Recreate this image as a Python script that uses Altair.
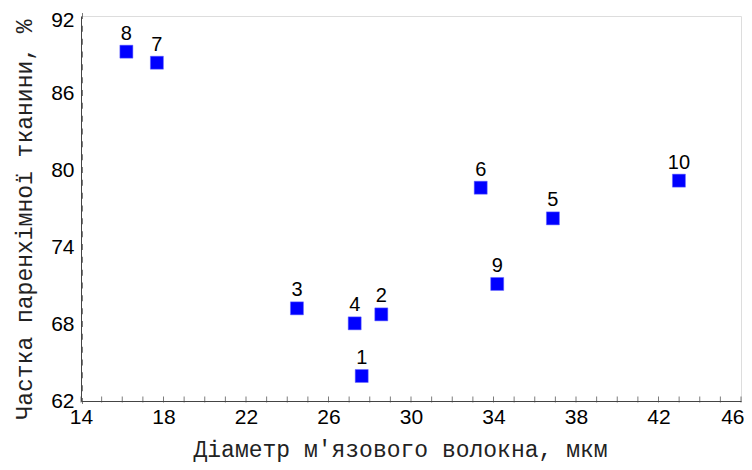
import altair as alt
import pandas as pd

point_labels = ["1", "2", "3", "4", "5", "6", "7", "8", "9", "10"]
diameter = [27.61, 28.56, 24.47, 27.27, 36.88, 33.38, 17.68, 16.20, 34.18, 42.99]
share = [63.95, 68.75, 69.22, 68.05, 76.23, 78.62, 88.36, 89.22, 71.12, 79.17]

x_labels = [14, 18, 22, 26, 30, 34, 38, 42, 46]
y_labels = [62, 68, 74, 80, 86, 92]
x_minor = list(range(14, 47))
y_minor = list(range(62, 93))

x_title = "Діаметр м'язового волокна, мкм"
y_title = "Частка паренхімної тканини, %"

df = pd.DataFrame({"label": point_labels, "d": diameter, "s": share})
xt = pd.DataFrame({"v": x_minor})
yt = pd.DataFrame({"v": y_minor})

xscale = alt.Scale(domain=[14, 46], nice=False, zero=False)
yscale = alt.Scale(domain=[62, 92], nice=False, zero=False)

common = dict(
    labelOverlap=False,
    labelFlush=False,
    tickSize=0,
    grid=False,
    labelFont="Liberation Sans",
    labelFontSize=21,
    labelColor="black",
    titleFont="Liberation Mono",
    titleFontSize=23,
    titleFontWeight="normal",
    titleColor="#222222",
    domainColor="#444444",
)

x_axis = alt.Axis(
    values=x_labels,
    title=x_title,
    labelPadding=5,
    labelAlign={"condition": {"test": "datum.value == 46", "value": "right"}, "value": "center"},
    labelOffset={"condition": {"test": "datum.value == 46", "value": 3}, "value": 0},
    titleX=319,
    titleY=55,
    titleBaseline="alphabetic",
    titleAlign="center",
    **common,
)
y_axis = alt.Axis(
    values=y_labels,
    title=y_title,
    labelPadding=7,
    labelBaseline={"condition": {"test": "datum.value == 92", "value": "top"}, "value": "middle"},
    labelOffset={"condition": {"test": "datum.value == 92", "value": -7}, "value": 0},
    titleX=-50,
    titleY=203,
    titleAngle=270,
    titleBaseline="alphabetic",
    titleAlign="center",
    **common,
)

points = alt.Chart(df).mark_square(size=169, color="#0000FF", opacity=1, stroke="#6666ff", strokeWidth=0.5).encode(
    x=alt.X("d:Q", scale=xscale, axis=x_axis),
    y=alt.Y("s:Q", scale=yscale, axis=y_axis),
)

texts = alt.Chart(df).mark_text(
    font="Liberation Sans", fontSize=20, color="black", baseline="alphabetic", dy=-12
).encode(
    x=alt.X("d:Q", scale=xscale, axis=x_axis),
    y=alt.Y("s:Q", scale=yscale, axis=y_axis),
    text="label:N",
)

xticks = alt.Chart(xt).mark_tick(size=6, thickness=1, color="#444444", yOffset=-1.5).encode(
    x=alt.X("v:Q", scale=xscale, axis=x_axis),
    y=alt.datum(62, scale=yscale, axis=y_axis),
)
yticks = alt.Chart(yt).mark_tick(size=6, thickness=1, color="#444444", xOffset=1.5).encode(
    y=alt.Y("v:Q", scale=yscale, axis=y_axis),
    x=alt.datum(14, scale=xscale, axis=x_axis),
)

chart = alt.layer(points, texts, xticks, yticks).properties(
    width=660,
    height=385,
    autosize=alt.AutoSizeParams(type="none"),
    padding={"left": 73, "top": 8, "right": 3, "bottom": 61},
).configure_view(strokeWidth=0).configure(background="white")

chart.save("out.html", embed_options={"renderer": "svg", "actions": False})
